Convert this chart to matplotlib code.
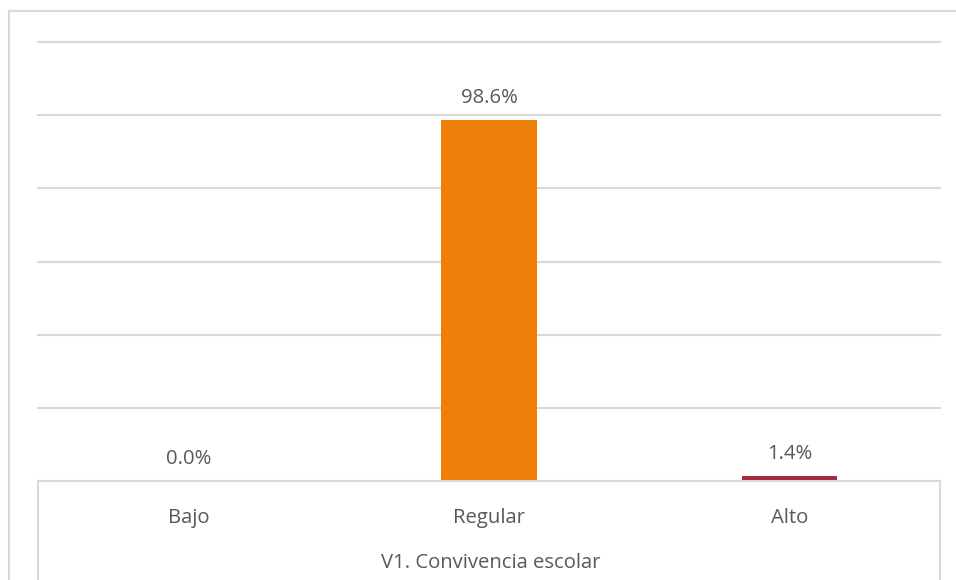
import matplotlib.pyplot as plt
from matplotlib.lines import Line2D

categories = ["Bajo", "Regular", "Alto"]
values = [0.0, 98.6, 1.4]
bar_colors = ["#4472C4", "#F07F09", "#A5293A"]
axis_title = "V1. Convivencia escolar"

W, H = 956, 580
fig = plt.figure(figsize=(W / 100, H / 100), dpi=100)
plt.rcParams['font.family'] = ['Open Sans', 'DejaVu Sans']

def fx(px):
    return px / W

def fy(py):
    return 1 - py / H

grid_c = "#D9D9D9"
text_c = "#595959"
fs = 14.6

ax = fig.add_axes([fx(38), fy(481), fx(940) - fx(38), fy(42) - fy(481)])
x = range(len(categories))
ax.bar(x, values, width=0.316, color=bar_colors, zorder=3)
ax.set_xlim(-0.5, 2.5)
ax.set_ylim(0, 120)
ax.set_yticks(range(0, 121, 20))
ax.yaxis.grid(True, color=grid_c, lw=1.5, zorder=0)
for gl in ax.get_ygridlines():
    gl.set_clip_on(False)
ax.tick_params(left=False, bottom=False, labelleft=False, labelbottom=False)
for s in ax.spines.values():
    s.set_visible(False)

for i, v in enumerate(values):
    ax.annotate(f"{v:.1f}%", (i, v), xytext=(0, 16), textcoords="offset points",
                ha="center", va="center", fontsize=fs, color=text_c)

# category axis box below the plot
fig.add_artist(Line2D([fx(38), fx(940)], [fy(481), fy(481)], color=grid_c, lw=1.5))
for xp in (38, 940):
    fig.add_artist(Line2D([fx(xp), fx(xp)], [fy(481), fy(580)], color=grid_c, lw=1.5))
for i, c in enumerate(categories):
    ax.annotate(c, (i, 0), xytext=(0, -26.5), textcoords="offset points",
                ha="center", va="center", fontsize=fs, color=text_c)
fig.text(fx(491), fy(563), axis_title, ha="center", va="center",
         fontsize=fs, color=text_c)

# chart area border
fig.add_artist(Line2D([fx(9), 1], [fy(11), fy(11)], color=grid_c, lw=1.5))
fig.add_artist(Line2D([fx(9), fx(9)], [fy(11), 0], color=grid_c, lw=1.5))

fig.savefig("out.png", dpi=100)
